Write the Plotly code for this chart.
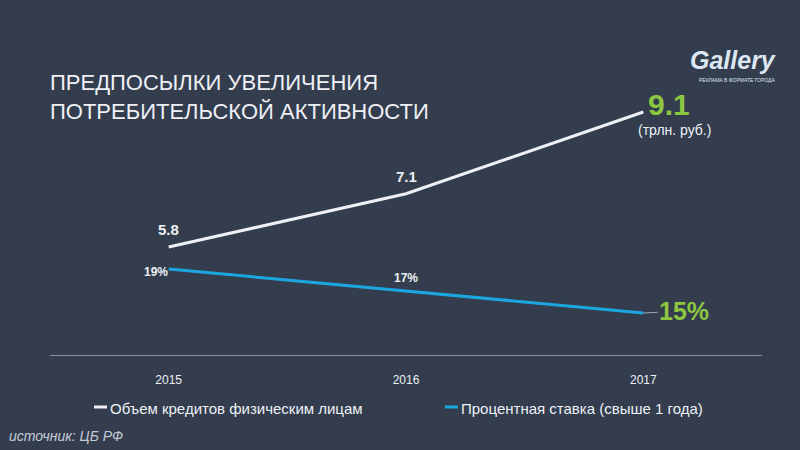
import plotly.graph_objects as go

years = ["2015", "2016", "2017"]
credit_volume = [5.8, 7.1, 9.1]          # трлн. руб.
interest_rate = [19, 17, 15]             # %
series_names = ["Объем кредитов физическим лицам", "Процентная ставка (свыше 1 года)"]

BG = "#333d4e"
WHITE = "#eef0f5"
BLUE = "#1ca6df"
GREEN = "#8dc63f"
FONT = "Liberation Sans, Arial, sans-serif"

# plot area in pixels
L, R, T, B = 50, 762, 60, 355

def px(x): return (x - L) / (R - L)
def py(y): return (B - y) / (B - T)

fig = go.Figure()
fig.add_trace(go.Scatter(x=years, y=credit_volume, mode="lines", name=series_names[0],
                         line=dict(color=WHITE, width=3), yaxis="y", showlegend=False))
fig.add_trace(go.Scatter(x=years, y=interest_rate, mode="lines", name=series_names[1],
                         line=dict(color=BLUE, width=3), yaxis="y2", showlegend=False))

annotations = []
# credit labels (category index positions)
for i, v in enumerate(credit_volume):
    if i < 2:
        annotations.append(dict(x=i, y=v, xref="x", yref="y", text=f"<b>{v}</b>", showarrow=False,
                                xanchor="center", yanchor="middle",
                                yshift=17, font=dict(size=15, color=WHITE, family=FONT)))
    else:
        annotations.append(dict(x=i, y=v, xref="x", yref="y", text=f"<b>{v}</b>", showarrow=False,
                                xanchor="center", yanchor="middle",
                                xshift=26, yshift=7, font=dict(size=30, color=GREEN, family=FONT)))
        annotations.append(dict(x=i, y=v, xref="x", yref="y", text="(трлн. руб.)", showarrow=False,
                                xanchor="center", yanchor="middle",
                                xshift=31, yshift=-18, font=dict(size=14, color=WHITE, family=FONT)))
# rate labels
for i, v in enumerate(interest_rate):
    if i == 0:
        annotations.append(dict(x=i, y=v, xref="x", yref="y2", text=f"<b>{v}%</b>", showarrow=False,
                                xanchor="center", yanchor="middle",
                                xshift=-13, yshift=-3, font=dict(size=12, color=WHITE, family=FONT)))
    elif i == 1:
        annotations.append(dict(x=i, y=v, xref="x", yref="y2", text=f"<b>{v}%</b>", showarrow=False,
                                xanchor="center", yanchor="middle",
                                yshift=13, font=dict(size=12, color=WHITE, family=FONT)))
    else:
        annotations.append(dict(x=i, y=v, xref="x", yref="y2", text=f"<b>{v}%</b>", showarrow=True,
                                ax=41, ay=-2, arrowhead=0, arrowcolor="#a0a6b0", arrowwidth=1.2,
                                standoff=0, startstandoff=0,
                                font=dict(size=25, color=GREEN, family=FONT)))

# title
annotations.append(dict(x=px(48), y=py(68), xref="paper", yref="paper",
                        text="ПРЕДПОСЫЛКИ УВЕЛИЧЕНИЯ<br>ПОТРЕБИТЕЛЬСКОЙ АКТИВНОСТИ",
                        showarrow=False, xanchor="left", yanchor="top", align="left",
                        font=dict(size=22, color=WHITE, family=FONT)))
# logo
annotations.append(dict(x=px(733), y=py(60), xref="paper", yref="paper", text="<b><i>Gallery</i></b>",
                        showarrow=False, xanchor="center", yanchor="middle",
                        font=dict(size=25, color="#dde7f2", family=FONT)))
annotations.append(dict(x=px(737), y=py(80), xref="paper", yref="paper", text="РЕКЛАМА В ФОРМАТЕ ГОРОДА",
                        showarrow=False, xanchor="center", yanchor="middle",
                        font=dict(size=5, color="#dde7f2", family=FONT)))
# legend
annotations.append(dict(x=px(108), y=py(408), xref="paper", yref="paper", text=series_names[0],
                        showarrow=False, xanchor="left", yanchor="middle",
                        font=dict(size=15, color=WHITE, family=FONT)))
annotations.append(dict(x=px(459), y=py(408), xref="paper", yref="paper", text=series_names[1],
                        showarrow=False, xanchor="left", yanchor="middle",
                        font=dict(size=15, color=WHITE, family=FONT)))
# source
annotations.append(dict(x=px(7), y=py(436), xref="paper", yref="paper", text="<i>источник: ЦБ РФ</i>",
                        showarrow=False, xanchor="left", yanchor="middle",
                        font=dict(size=14, color="#c5cbd6", family=FONT)))

hidden = dict(showgrid=False, zeroline=False, showline=False, showticklabels=False, ticks="")
fig.update_layout(
    width=800, height=450,
    paper_bgcolor=BG, plot_bgcolor=BG,
    margin=dict(l=L, r=800 - R, t=T, b=450 - B),
    xaxis=dict(type="category", range=[-0.5, 2.5], showgrid=False, zeroline=False,
               showline=True, linecolor="#8a909b", linewidth=1, ticks="",
               tickfont=dict(size=12, color=WHITE, family=FONT), ticklabelstandoff=14),
    yaxis=dict(range=[3.16, 10.37], **hidden),
    yaxis2=dict(range=[11.18, 38.0], overlaying="y", **hidden),
    showlegend=False,
    annotations=annotations,
    shapes=[
        dict(type="line", xref="paper", yref="paper", x0=px(94), x1=px(107), y0=py(407), y1=py(407),
             line=dict(color=WHITE, width=3)),
        dict(type="line", xref="paper", yref="paper", x0=px(445), x1=px(458), y0=py(407), y1=py(407),
             line=dict(color=BLUE, width=3)),
    ],
)
fig.write_html("out.html")
